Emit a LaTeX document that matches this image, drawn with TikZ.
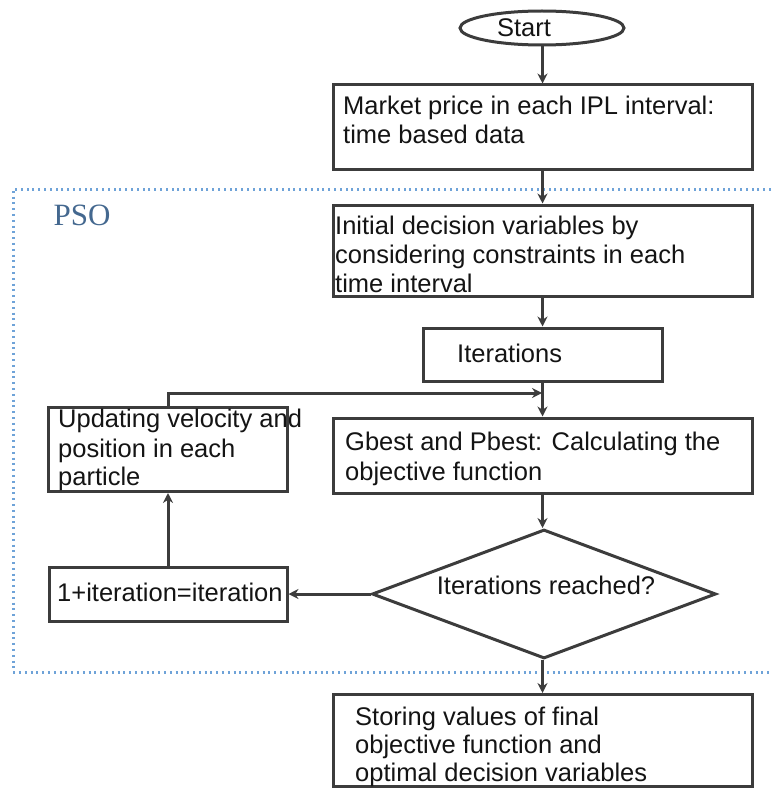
\documentclass[tikz,border=0pt]{standalone}
\usepackage{fontspec}
\setmainfont{Liberation Sans}
\newfontfamily\psofont{Liberation Serif}
\usetikzlibrary{arrows.meta,shapes.geometric}
\definecolor{linec}{HTML}{3C3C3C}
\definecolor{psoc}{HTML}{6FA3D8}
\definecolor{psotext}{HTML}{44688F}
\definecolor{txtc}{HTML}{141414}
\tikzset{
  box/.style={draw=linec, line width=3pt, fill=white, inner sep=0pt, minimum width=#1},
  txt/.style={inner sep=0pt, anchor=base west, text=txtc, font={\fontsize{25.5}{29}\selectfont}},
  ctxt/.style={inner sep=0pt, anchor=base, text=txtc, font={\fontsize{25.5}{29}\selectfont}},
  arr/.style={draw=linec, line width=3pt, -{Stealth[length=10pt,width=10pt]}},
  ln/.style={draw=linec, line width=3pt},
}
\begin{document}
\begin{tikzpicture}[x=1pt,y=-1pt]
\useasboundingbox (0,0) rectangle (771,789);
% PSO region
\draw[psoc, line width=3pt, dash pattern=on 2pt off 3.8pt] (771,189) -- (13,189) -- (13,672) -- (771,672);
\node[inner sep=0pt, text=psotext, font={\psofont\fontsize{31}{34}\selectfont}, anchor=base] (pso) at (82,225) {PSO};
% start
\node[draw=linec, line width=3pt, ellipse, minimum width=164pt, minimum height=34pt, inner sep=0pt] (start) at (542,28) {};
\node[ctxt] (starttxt) at (524,37) {Start};
% box 1
\node[box=419pt, minimum height=84pt] (b1) at (542.5,127) {};
\node[txt] (b1a) at (343,115) {Market price in each IPL interval:};
\node[txt] (b1b) at (343,143) {time based data};
% box 2
\node[box=419pt, minimum height=91pt] (b2) at (542.5,250.5) {};
\node[txt] (b2a) at (335,234) {Initial decision variables by};
\node[txt] (b2b) at (335,263) {considering constraints in each};
\node[txt] (b2c) at (335,292) {time interval};
% iterations
\node[box=239pt, minimum height=53pt] (it) at (542.5,354.5) {};
\node[txt] (itt) at (457,362) {Iterations};
% gbest
\node[box=419pt, minimum height=75pt] (gb) at (542.5,455.5) {};
\node[txt] (gba) at (345,450) {Gbest and Pbest: Calculating the};
\node[txt] (gbb) at (345,480) {objective function};
% update
\node[box=239pt, minimum height=84pt] (up) at (168,449.5) {};
\node[txt] (upa) at (58,427) {Updating velocity and};
\node[txt] (upb) at (58,457) {position in each};
\node[txt] (upc) at (58,485) {particle};
% decision
\node[draw=linec, line width=3pt, diamond, aspect=2.65, minimum width=344pt, minimum height=129pt, inner sep=0pt] (dec) at (544,594) {};
\node[ctxt] (dect) at (546,594) {Iterations reached?};
% increment
\node[box=238pt, minimum height=54pt] (inc) at (168,594) {};
\node[txt] (inct) at (57,601) {1+iteration=iteration};
% storing
\node[box=419pt, minimum height=92pt] (st) at (542.5,740.5) {};
\node[txt] (sta) at (355,725) {Storing values of final};
\node[txt] (stb) at (355,753) {objective function and};
\node[txt] (stc) at (355,781) {optimal decision variables};
% connectors
\coordinate (join) at (542,393);
\draw[arr] (start.south -| b1.north) -- (b1.north);
\draw[arr] (b1.south) -- (b2.north);
\draw[arr] (b2.south) -- (it.north);
\draw[arr] (it.south) -- (gb.north);
\draw[arr] (up.north) |- (join);
\draw[arr] (gb.south) -- (dec.north -| gb.south);
\draw[arr] (dec.west) -- (inc.east);
\draw[arr] (inc.north) -- (up.south);
\draw[arr] (dec.south -| st.north) -- (st.north);
\end{tikzpicture}
\end{document}
